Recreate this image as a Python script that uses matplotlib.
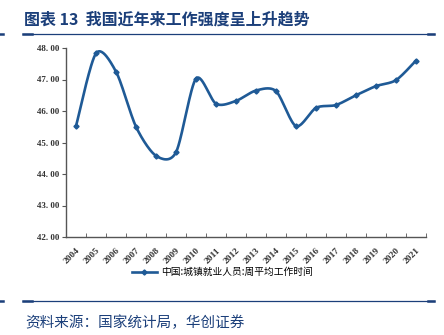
import numpy as np
import matplotlib
matplotlib.use("Agg")
import matplotlib.pyplot as plt
from matplotlib.lines import Line2D

plt.rcParams["font.family"] = ["Noto Sans CJK SC", "DejaVu Sans"]

# ---- Data ---------------------------------------------------------------
years = ["2004", "2005", "2006", "2007", "2008", "2009", "2010", "2011", "2012",
         "2013", "2014", "2015", "2016", "2017", "2018", "2019", "2020", "2021"]
hours = [45.52, 47.83, 47.25, 45.50, 44.58, 44.69, 47.03, 46.23, 46.32,
         46.65, 46.63, 45.52, 46.10, 46.19, 46.50, 46.79, 46.98, 47.60]
yticks = [42, 43, 44, 45, 46, 47, 48]
series_name = "中国:城镇就业人员:周平均工作时间"
title = "图表 13  我国近年来工作强度呈上升趋势"
source = "资料来源：国家统计局，华创证券"

NAVY = "#1b3f7a"
LINE = "#1f5a96"
SPINE = "#555555"


def smooth(xs, ys, k=0.14, n=30):
    """Smoothed line: cubic Bezier between the points, neighbour-based handles."""
    xs = np.asarray(xs, float)
    ys = np.asarray(ys, float)
    px = np.concatenate([[xs[0]], xs, [xs[-1]]])
    py = np.concatenate([[ys[0]], ys, [ys[-1]]])
    outx, outy = [], []
    t = np.linspace(0, 1, n)
    for i in range(len(xs) - 1):
        p0 = np.array([px[i + 1], py[i + 1]])
        p3 = np.array([px[i + 2], py[i + 2]])
        c1 = p0 + (p3 - np.array([px[i], py[i]])) * k
        c2 = p3 - (np.array([px[i + 3], py[i + 3]]) - p0) * k
        b = ((1 - t) ** 3)[:, None] * p0 + (3 * (1 - t) ** 2 * t)[:, None] * c1 \
            + (3 * (1 - t) * t ** 2)[:, None] * c2 + (t ** 3)[:, None] * p3
        outx.extend(b[:, 0])
        outy.extend(b[:, 1])
    return np.array(outx), np.array(outy)


fig = plt.figure(figsize=(4.44, 3.35), dpi=100)
ax = fig.add_axes([66 / 444, 1 - 237 / 335, 360 / 444, 189 / 335])

x = np.arange(len(years))
sx, sy = smooth(x, hours)
ax.plot(sx, sy, color=LINE, lw=1.9, solid_capstyle="round")
ax.plot(x, hours, ls="none", marker="D", ms=2.6, color=LINE)

ax.set_xlim(-0.5, len(years) - 0.5)
ax.set_ylim(42, 48)
ax.set_yticks(yticks)
ax.set_yticklabels([f"{v}. 00" for v in yticks], family="Liberation Serif",
                   fontsize=6.5, weight="bold", color="#333333")
ax.set_xticks(x)
ax.set_xticklabels(years, rotation=45, ha="right", rotation_mode="anchor",
                   family="Liberation Serif", fontsize=6.8, weight="bold",
                   color="#333333")
ax.set_xticks(np.arange(-0.5, len(years)), minor=True)
ax.tick_params(axis="x", which="major", length=0, pad=7)
ax.tick_params(axis="x", which="minor", length=3, direction="in", color=SPINE)
ax.tick_params(axis="y", length=3, direction="out", color=SPINE, pad=2)
for s in ["top", "right"]:
    ax.spines[s].set_visible(False)
for s in ["left", "bottom"]:
    ax.spines[s].set_color(SPINE)
    ax.spines[s].set_linewidth(1.0)

# legend
handle = Line2D([], [], color=LINE, lw=1.9, marker="D", ms=2.6)
fig.legend([handle], [series_name], loc="center", frameon=False,
           bbox_to_anchor=(222 / 444, 1 - 272 / 335), fontsize=7,
           handlelength=2.6, handletextpad=0.4)

# title and rules
fig.text(24 / 444, 1 - 20 / 335, title, fontsize=11.5, weight="bold",
         color=NAVY, va="center", ha="left")
for yy in (34, 301):
    yf = 1 - yy / 335
    fig.add_artist(Line2D([23 / 444, 434 / 444], [yf, yf], color=NAVY, lw=0.9))
    fig.add_artist(Line2D([23 / 444, 32 / 444], [yf, yf], color=NAVY, lw=1.8))
    fig.add_artist(Line2D([428 / 444, 434 / 444], [yf, yf], color=NAVY, lw=1.8))
    fig.add_artist(Line2D([0, 3 / 444], [yf, yf], color=NAVY, lw=1.8))

fig.text(25 / 444, 1 - 323 / 335, source, fontsize=10.5, color=NAVY,
         va="center", ha="left")

fig.savefig("out.png", dpi=100)
